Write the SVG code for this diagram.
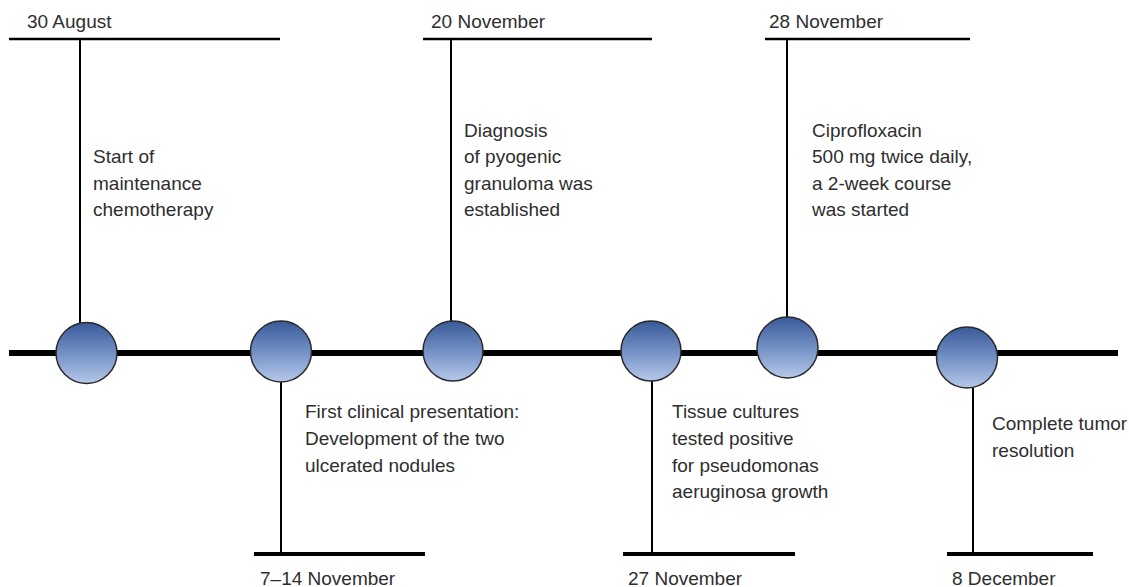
<svg xmlns="http://www.w3.org/2000/svg" width="1129" height="587" viewBox="0 0 1129 587">
<defs>
<linearGradient id="g" x1="0" y1="0" x2="0" y2="1">
<stop offset="0" stop-color="#385a99"/>
<stop offset="0.5" stop-color="#7390c4"/>
<stop offset="1" stop-color="#b6c8ea"/>
</linearGradient>
<style>
text{font-family:"Liberation Sans",Arial,sans-serif;font-size:19px;fill:#2e2e2e}
.thin{stroke:#000;stroke-width:2;fill:none}
.top{stroke:#000;stroke-width:2.5;fill:none}
.bot{stroke:#000;stroke-width:4;fill:none}
.main{stroke:#000;stroke-width:6;fill:none}
.node{fill:url(#g);stroke:#2a2a2a;stroke-width:1.5}
</style>
</defs>
<rect width="1129" height="587" fill="#fff"/>
<g id="connectors">
<line class="main" x1="9" y1="353" x2="1118" y2="353"/>
<line class="top" x1="9" y1="39" x2="280" y2="39"/>
<line class="thin" x1="80" y1="39" x2="80" y2="323"/>
<line class="top" x1="423" y1="39" x2="652" y2="39"/>
<line class="thin" x1="451" y1="39" x2="451" y2="321"/>
<line class="top" x1="765" y1="39" x2="970" y2="39"/>
<line class="thin" x1="787" y1="39" x2="787" y2="317"/>
<line class="bot" x1="254" y1="554" x2="425" y2="554"/>
<line class="thin" x1="281" y1="382" x2="281" y2="554"/>
<line class="bot" x1="623" y1="554" x2="795" y2="554"/>
<line class="thin" x1="652" y1="381" x2="652" y2="554"/>
<line class="bot" x1="947" y1="554" x2="1093" y2="554"/>
<line class="thin" x1="973" y1="388" x2="973" y2="554"/>
</g>
<g id="n1">
<circle class="node" cx="86.5" cy="353" r="30.5"/>
<text x="27" y="28">30 August</text>
<text x="93" y="163">Start of</text>
<text x="93" y="190">maintenance</text>
<text x="93" y="216">chemotherapy</text>
</g>
<g id="n2">
<circle class="node" cx="281" cy="351.5" r="30.5"/>
<text x="305" y="418">First clinical presentation:</text>
<text x="305" y="445">Development of the two</text>
<text x="305" y="472">ulcerated nodules</text>
<text x="260" y="585">7–14 November</text>
</g>
<g id="n3">
<circle class="node" cx="453" cy="351" r="30"/>
<text x="431" y="28">20 November</text>
<text x="464" y="137">Diagnosis</text>
<text x="464" y="163">of pyogenic</text>
<text x="464" y="190">granuloma was</text>
<text x="464" y="216">established</text>
</g>
<g id="n4">
<circle class="node" cx="651" cy="351" r="30"/>
<text x="672" y="418">Tissue cultures</text>
<text x="672" y="445">tested positive</text>
<text x="672" y="472">for pseudomonas</text>
<text x="672" y="498">aeruginosa growth</text>
<text x="628" y="585">27 November</text>
</g>
<g id="n5">
<circle class="node" cx="787.5" cy="347.5" r="30.5"/>
<text x="769" y="28">28 November</text>
<text x="812" y="137">Ciprofloxacin</text>
<text x="812" y="163">500 mg twice daily,</text>
<text x="812" y="190">a 2-week course</text>
<text x="812" y="216">was started</text>
</g>
<g id="n6">
<circle class="node" cx="967" cy="357.5" r="30.5"/>
<text x="992" y="430">Complete tumor</text>
<text x="992" y="457">resolution</text>
<text x="952" y="585">8 December</text>
</g>
</svg>
